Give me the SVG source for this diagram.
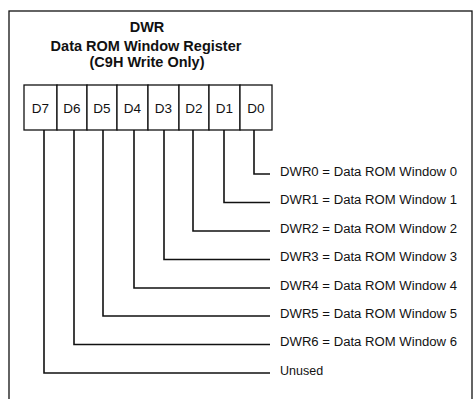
<svg xmlns="http://www.w3.org/2000/svg" width="475" height="399" viewBox="0 0 475 399">
<style>
.frame{fill:none;stroke:#111;stroke-width:1.3}
.box{fill:#fff;stroke:#111;stroke-width:1.3}
.conn{fill:none;stroke:#111;stroke-width:1.6}
.title{font-family:"Liberation Sans",Arial,sans-serif;font-weight:bold;font-size:14.5px;fill:#111;text-anchor:middle}
.bit{font-family:"Liberation Sans",Arial,sans-serif;font-size:13.5px;fill:#111;text-anchor:middle}
.lbl{font-family:"Liberation Sans",Arial,sans-serif;font-size:12.5px;fill:#111}
</style>
<rect width="475" height="399" fill="#fff"/>
<rect class="frame" x="9" y="11" width="463" height="400"/>
<g id="title">
<text class="title" x="147" y="31.5">DWR</text>
<text class="title" x="146" y="50.5">Data ROM Window Register</text>
<text class="title" x="147" y="66.5">(C9H Write Only)</text>
</g>
<g id="register">
<g id="bit7"><rect class="box" x="24" y="85" width="33" height="45"/><text class="bit" x="40.5" y="113">D7</text></g>
<g id="bit6"><rect class="box" x="57" y="85" width="30" height="45"/><text class="bit" x="72" y="113">D6</text></g>
<g id="bit5"><rect class="box" x="87" y="85" width="30" height="45"/><text class="bit" x="102" y="113">D5</text></g>
<g id="bit4"><rect class="box" x="117" y="85" width="31" height="45"/><text class="bit" x="132.5" y="113">D4</text></g>
<g id="bit3"><rect class="box" x="148" y="85" width="31" height="45"/><text class="bit" x="163.5" y="113">D3</text></g>
<g id="bit2"><rect class="box" x="179" y="85" width="30" height="45"/><text class="bit" x="194" y="113">D2</text></g>
<g id="bit1"><rect class="box" x="209" y="85" width="31" height="45"/><text class="bit" x="224.5" y="113">D1</text></g>
<g id="bit0"><rect class="box" x="240" y="85" width="32" height="45"/><text class="bit" x="256" y="113">D0</text></g>
</g>
<g id="connectors">
<polyline class="conn" points="254,130 254,174 270,174"/>
<polyline class="conn" points="224,130 224,202.5 270,202.5"/>
<polyline class="conn" points="193,130 193,231 270,231"/>
<polyline class="conn" points="164,130 164,259.5 270,259.5"/>
<polyline class="conn" points="134,130 134,288 270,288"/>
<polyline class="conn" points="103,130 103,316 270,316"/>
<polyline class="conn" points="74,130 74,344.5 270,344.5"/>
<polyline class="conn" points="44,130 44,373 270,373"/>
</g>
<g id="labels">
<text class="lbl" x="280" y="175.5" textLength="177" lengthAdjust="spacingAndGlyphs">DWR0 = Data ROM Window 0</text>
<text class="lbl" x="280" y="204" textLength="177" lengthAdjust="spacingAndGlyphs">DWR1 = Data ROM Window 1</text>
<text class="lbl" x="280" y="232.5" textLength="177" lengthAdjust="spacingAndGlyphs">DWR2 = Data ROM Window 2</text>
<text class="lbl" x="280" y="261" textLength="177" lengthAdjust="spacingAndGlyphs">DWR3 = Data ROM Window 3</text>
<text class="lbl" x="280" y="289.5" textLength="177" lengthAdjust="spacingAndGlyphs">DWR4 = Data ROM Window 4</text>
<text class="lbl" x="280" y="317.5" textLength="177" lengthAdjust="spacingAndGlyphs">DWR5 = Data ROM Window 5</text>
<text class="lbl" x="280" y="346" textLength="177" lengthAdjust="spacingAndGlyphs">DWR6 = Data ROM Window 6</text>
<text class="lbl" x="280" y="374.5">Unused</text>
</g>
</svg>
